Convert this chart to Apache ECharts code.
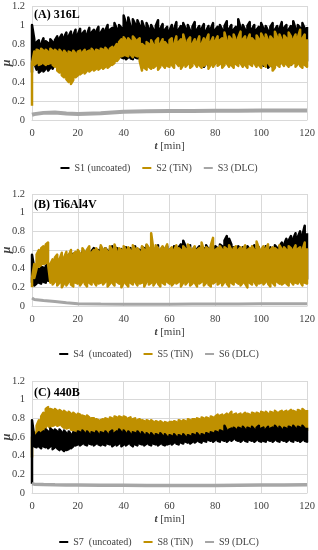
<!DOCTYPE html>
<html><head><meta charset="utf-8">
<script src="https://cdn.jsdelivr.net/npm/echarts@6/dist/echarts.min.js"></script>
<style>html,body{margin:0;padding:0;background:#fff}#c{width:318px;height:550px}</style>
</head><body><div id="c"></div>
<script>
// sample times (min) of the noisy signals: one local min/max pair per minute
const minutes = Array.from({length:121},(_,i)=>i);
// sample times of the DLC curves
const dlcTimes = [0,1,5,10,15,20,30,40,50,60,70,80,90,100,110,120];
const xTicks = [0,20,40,60,80,100,120];
const yTicks = [0,0.2,0.4,0.6,0.8,1,1.2];

// ---- (A) 316L ----
const S1_hi = [1.0,0.85,0.82,0.84,0.80,0.86,0.83,0.81,0.85,0.82,0.84,
0.88,0.86,0.9,0.87,0.92,0.88,0.93,0.89,0.95,0.9,
0.96,0.91,0.94,0.9,0.97,0.92,0.95,0.93,0.98,0.92,
0.96,0.94,1.0,0.95,0.97,1.02,0.96,1.0,0.97,1.1,
1.02,1.08,0.98,1.06,1.01,1.05,0.99,1.04,0.97,1.02,
0.96,1.0,0.95,0.99,1.05,0.96,1.01,0.95,0.98,0.94,
1.0,0.96,1.03,0.95,0.99,1.02,0.96,1.0,0.94,0.98,
1.03,0.95,0.99,0.96,1.01,0.94,0.99,0.96,1.02,0.95,
0.98,1.0,0.95,0.99,1.04,0.96,1.0,0.95,0.98,1.06,
0.97,1.0,0.95,0.99,1.03,0.96,1.0,0.95,0.98,1.02,
0.96,0.99,0.94,0.98,1.02,0.95,0.99,0.96,1.03,0.97,
1.0,0.95,0.99,1.04,0.96,1.0,0.97,1.02,0.96,0.98];
const S1_lo = [0.5,0.6,0.53,0.5,0.52,0.51,0.54,0.52,0.55,0.54,0.6,
0.7,0.72,0.7,0.71,0.7,0.72,0.7,0.71,0.72,0.7,
0.72,0.71,0.73,0.72,0.74,0.72,0.73,0.74,0.72,0.74,
0.73,0.75,0.74,0.73,0.75,0.74,0.72,0.7,0.66,0.65,
0.64,0.66,0.65,0.64,0.66,0.65,0.64,0.63,0.62,0.64,
0.62,0.63,0.61,0.63,0.62,0.6,0.63,0.62,0.61,0.62,
0.63,0.6,0.62,0.61,0.63,0.62,0.6,0.62,0.63,0.61,
0.62,0.6,0.61,0.58,0.56,0.6,0.57,0.62,0.59,0.6,
0.62,0.6,0.63,0.61,0.6,0.62,0.58,0.61,0.6,0.62,
0.6,0.62,0.59,0.61,0.6,0.62,0.6,0.58,0.61,0.6,
0.57,0.6,0.55,0.58,0.56,0.6,0.62,0.59,0.61,0.6,
0.62,0.6,0.58,0.61,0.6,0.62,0.59,0.61,0.6,0.62];
const S2_hi = [0.6,0.72,0.74,0.73,0.75,0.73,0.74,0.72,0.75,0.73,0.74,
0.72,0.74,0.71,0.73,0.7,0.72,0.71,0.73,0.7,0.72,
0.73,0.71,0.74,0.72,0.73,0.75,0.72,0.74,0.73,0.75,
0.74,0.76,0.73,0.75,0.77,0.76,0.8,0.82,0.85,0.87,
0.84,0.86,0.83,0.88,0.85,0.84,0.86,0.8,0.78,0.82,
0.8,0.84,0.79,0.83,0.86,0.8,0.85,0.82,0.79,0.84,
0.86,0.8,0.88,0.82,0.85,0.9,0.81,0.84,0.87,0.8,
0.85,0.82,0.88,0.8,0.86,0.84,0.9,0.82,0.87,0.83,
0.88,0.84,0.86,0.92,0.83,0.88,0.85,0.9,0.84,0.87,
0.93,0.85,0.88,0.84,0.9,0.86,0.83,0.89,0.85,0.91,
0.86,0.9,0.84,0.88,0.85,0.93,0.87,0.9,0.84,0.89,
0.86,0.92,0.88,0.85,0.9,0.87,0.95,0.86,0.9,0.85];
const S2_lo = [0.15,0.58,0.6,0.58,0.59,0.6,0.58,0.59,0.6,0.58,0.56,
0.52,0.5,0.47,0.45,0.43,0.4,0.38,0.42,0.45,0.47,
0.48,0.5,0.49,0.52,0.51,0.53,0.52,0.54,0.53,0.55,
0.54,0.56,0.55,0.57,0.58,0.6,0.62,0.65,0.67,0.68,
0.68,0.67,0.69,0.66,0.68,0.67,0.62,0.52,0.55,0.53,
0.56,0.54,0.55,0.57,0.53,0.56,0.58,0.55,0.57,0.56,
0.58,0.55,0.6,0.57,0.54,0.58,0.56,0.59,0.55,0.57,
0.6,0.56,0.58,0.55,0.57,0.59,0.54,0.58,0.56,0.6,
0.57,0.59,0.55,0.58,0.6,0.56,0.58,0.55,0.59,0.57,
0.6,0.56,0.58,0.55,0.59,0.57,0.6,0.56,0.58,0.55,
0.59,0.56,0.6,0.57,0.52,0.55,0.58,0.56,0.6,0.57,
0.59,0.56,0.58,0.6,0.56,0.59,0.57,0.55,0.58,0.56];
const S3 = [0.055,0.062,0.075,0.078,0.068,0.062,0.07,0.087,0.092,0.095,0.096,0.097,0.098,0.1,0.1,0.1];

// ---- (B) Ti6Al4V ----
const S4_hi = [0.55,0.4,0.38,0.4,0.42,0.41,0.43,0.45,0.44,0.46,0.48,
0.5,0.49,0.52,0.5,0.53,0.55,0.52,0.56,0.54,0.58,
0.55,0.58,0.56,0.6,0.57,0.59,0.62,0.58,0.6,0.63,
0.6,0.62,0.59,0.61,0.64,0.6,0.62,0.58,0.61,0.6,
0.63,0.6,0.62,0.59,0.64,0.61,0.6,0.63,0.62,0.65,
0.61,0.63,0.6,0.62,0.65,0.6,0.63,0.61,0.64,0.6,
0.62,0.64,0.6,0.63,0.66,0.7,0.64,0.62,0.65,0.6,
0.63,0.61,0.64,0.6,0.62,0.65,0.61,0.63,0.6,0.64,
0.62,0.66,0.64,0.7,0.75,0.72,0.66,0.63,0.61,0.64,
0.6,0.63,0.61,0.64,0.6,0.62,0.65,0.61,0.63,0.6,
0.62,0.64,0.61,0.63,0.6,0.65,0.62,0.64,0.68,0.66,
0.72,0.7,0.75,0.72,0.78,0.74,0.8,0.76,0.86,0.78];
const S4_lo = [0.25,0.22,0.24,0.25,0.24,0.26,0.25,0.27,0.28,0.3,0.3,
0.3,0.31,0.29,0.3,0.28,0.3,0.29,0.31,0.3,0.29,
0.3,0.28,0.29,0.31,0.3,0.28,0.29,0.3,0.27,0.29,
0.28,0.3,0.27,0.29,0.28,0.3,0.29,0.27,0.28,0.3,
0.29,0.28,0.3,0.27,0.29,0.28,0.3,0.29,0.27,0.28,
0.29,0.3,0.28,0.27,0.29,0.3,0.28,0.29,0.27,0.28,
0.26,0.28,0.29,0.27,0.3,0.28,0.29,0.3,0.28,0.29,
0.28,0.3,0.29,0.27,0.28,0.3,0.29,0.28,0.3,0.29,
0.28,0.27,0.29,0.26,0.28,0.3,0.29,0.28,0.27,0.29,
0.3,0.28,0.29,0.27,0.28,0.3,0.29,0.28,0.27,0.29,
0.28,0.3,0.29,0.27,0.28,0.26,0.29,0.28,0.27,0.29,
0.28,0.3,0.29,0.27,0.28,0.3,0.29,0.28,0.3,0.29];
const S5_hi = [0.3,0.45,0.55,0.6,0.62,0.64,0.66,0.68,0.45,0.5,0.52,
0.55,0.5,0.57,0.52,0.58,0.54,0.6,0.55,0.58,0.6,
0.56,0.62,0.58,0.6,0.64,0.57,0.6,0.62,0.58,0.65,
0.6,0.62,0.58,0.64,0.6,0.66,0.58,0.62,0.6,0.64,
0.6,0.63,0.59,0.65,0.61,0.62,0.58,0.64,0.6,0.66,
0.62,0.78,0.6,0.65,0.62,0.6,0.64,0.61,0.66,0.6,
0.63,0.6,0.65,0.62,0.6,0.64,0.61,0.66,0.62,0.6,
0.64,0.6,0.62,0.68,0.6,0.63,0.61,0.65,0.73,0.6,
0.62,0.64,0.6,0.63,0.61,0.65,0.6,0.62,0.64,0.6,
0.63,0.61,0.65,0.6,0.62,0.64,0.6,0.69,0.62,0.6,
0.64,0.61,0.66,0.6,0.63,0.62,0.6,0.65,0.61,0.63,
0.6,0.64,0.62,0.6,0.65,0.61,0.63,0.6,0.68,0.62];
const S5_lo = [0.2,0.3,0.4,0.42,0.44,0.45,0.46,0.45,0.25,0.23,0.26,
0.22,0.25,0.2,0.24,0.22,0.26,0.23,0.21,0.25,0.24,
0.22,0.26,0.24,0.21,0.25,0.23,0.26,0.22,0.24,0.25,
0.23,0.26,0.21,0.24,0.25,0.22,0.26,0.24,0.2,0.25,
0.24,0.21,0.25,0.23,0.26,0.22,0.24,0.25,0.21,0.26,
0.23,0.25,0.22,0.26,0.24,0.21,0.25,0.23,0.26,0.24,
0.22,0.25,0.24,0.26,0.21,0.25,0.23,0.26,0.22,0.24,
0.25,0.21,0.24,0.26,0.22,0.25,0.23,0.21,0.24,0.26,
0.23,0.25,0.22,0.26,0.24,0.21,0.25,0.23,0.26,0.24,
0.22,0.25,0.24,0.2,0.25,0.23,0.26,0.22,0.24,0.25,
0.23,0.26,0.24,0.21,0.25,0.22,0.26,0.24,0.23,0.25,
0.24,0.22,0.26,0.23,0.25,0.24,0.26,0.22,0.25,0.24];
const S6 = [0.085,0.07,0.06,0.048,0.035,0.025,0.022,0.02,0.02,0.02,0.022,0.022,0.022,0.025,0.025,0.025];

// ---- (C) 440B ----
const S7_hi = [0.78,0.6,0.62,0.65,0.64,0.66,0.68,0.66,0.69,0.67,0.68,
0.66,0.68,0.65,0.67,0.64,0.66,0.63,0.65,0.64,0.66,
0.65,0.67,0.64,0.66,0.63,0.65,0.64,0.66,0.63,0.65,
0.64,0.66,0.63,0.65,0.67,0.64,0.66,0.68,0.65,0.67,
0.64,0.66,0.63,0.65,0.64,0.66,0.63,0.65,0.62,0.64,
0.62,0.64,0.61,0.63,0.62,0.64,0.61,0.63,0.6,0.62,
0.61,0.63,0.6,0.62,0.61,0.63,0.6,0.62,0.61,0.63,
0.62,0.64,0.61,0.63,0.62,0.64,0.63,0.65,0.64,0.66,
0.65,0.67,0.66,0.72,0.67,0.68,0.69,0.7,0.68,0.7,
0.69,0.71,0.68,0.7,0.69,0.71,0.68,0.7,0.72,0.69,
0.7,0.68,0.71,0.69,0.7,0.72,0.69,0.71,0.68,0.7,
0.69,0.71,0.7,0.72,0.69,0.71,0.7,0.72,0.69,0.7];
const S7_lo = [0.1,0.5,0.49,0.5,0.48,0.5,0.49,0.48,0.5,0.47,0.49,
0.48,0.46,0.47,0.45,0.46,0.47,0.48,0.5,0.51,0.52,
0.51,0.53,0.52,0.51,0.53,0.52,0.51,0.53,0.52,0.51,
0.52,0.51,0.53,0.52,0.5,0.52,0.51,0.53,0.5,0.52,
0.51,0.53,0.52,0.5,0.52,0.51,0.53,0.52,0.51,0.53,
0.52,0.51,0.53,0.52,0.51,0.53,0.52,0.51,0.52,0.53,
0.52,0.54,0.53,0.52,0.54,0.53,0.55,0.54,0.53,0.55,
0.54,0.56,0.55,0.54,0.56,0.55,0.57,0.56,0.55,0.57,
0.56,0.55,0.57,0.56,0.55,0.57,0.56,0.58,0.57,0.56,
0.55,0.57,0.56,0.55,0.57,0.56,0.55,0.57,0.56,0.55,
0.56,0.55,0.57,0.56,0.55,0.57,0.56,0.55,0.57,0.56,
0.55,0.57,0.56,0.55,0.57,0.56,0.55,0.57,0.56,0.55];
const S8_hi = [0.6,0.65,0.72,0.78,0.82,0.86,0.9,0.92,0.9,0.89,0.9,
0.88,0.89,0.87,0.88,0.86,0.87,0.85,0.86,0.84,0.85,
0.84,0.83,0.82,0.83,0.81,0.8,0.8,0.79,0.78,0.78,
0.79,0.8,0.79,0.81,0.8,0.82,0.81,0.82,0.81,0.82,
0.81,0.8,0.81,0.79,0.8,0.78,0.79,0.78,0.77,0.78,
0.77,0.78,0.76,0.77,0.76,0.77,0.75,0.76,0.75,0.76,
0.76,0.77,0.76,0.78,0.77,0.78,0.77,0.79,0.78,0.79,
0.79,0.8,0.79,0.81,0.8,0.81,0.8,0.82,0.81,0.82,
0.84,0.83,0.84,0.83,0.85,0.84,0.87,0.84,0.85,0.84,
0.85,0.84,0.86,0.85,0.84,0.86,0.85,0.86,0.85,0.87,
0.86,0.87,0.85,0.87,0.86,0.88,0.86,0.87,0.88,0.87,
0.88,0.87,0.89,0.88,0.87,0.89,0.88,0.9,0.88,0.89];
const S8_lo = [0.38,0.55,0.6,0.62,0.65,0.67,0.7,0.72,0.7,0.72,0.73,
0.72,0.73,0.72,0.7,0.69,0.7,0.68,0.67,0.66,0.65,
0.64,0.63,0.62,0.63,0.62,0.63,0.62,0.63,0.62,0.63,
0.62,0.63,0.62,0.63,0.62,0.63,0.62,0.63,0.62,0.63,
0.62,0.63,0.62,0.61,0.62,0.61,0.62,0.61,0.6,0.61,
0.6,0.61,0.6,0.61,0.6,0.61,0.6,0.61,0.6,0.61,
0.6,0.61,0.6,0.61,0.6,0.61,0.6,0.61,0.6,0.61,
0.61,0.62,0.61,0.62,0.61,0.62,0.62,0.63,0.62,0.63,
0.64,0.65,0.64,0.65,0.65,0.66,0.66,0.67,0.66,0.67,
0.66,0.67,0.66,0.67,0.66,0.67,0.66,0.67,0.66,0.67,
0.66,0.67,0.66,0.67,0.66,0.67,0.66,0.67,0.66,0.67,
0.66,0.67,0.66,0.67,0.66,0.67,0.66,0.67,0.66,0.67];
const S9 = [0.1,0.095,0.09,0.088,0.087,0.086,0.084,0.083,0.081,0.08,0.08,0.081,0.083,0.085,0.087,0.088];

const panelTitles = ['(A) 316L','(B) Ti6Al4V','(C) 440B'];
const legendNames = [
  ['S1 (uncoated)','S2 (TiN)','S3 (DLC)'],
  ['S4  (uncoated)','S5 (TiN)','S6 (DLC)'],
  ['S7  (uncoated)','S8 (TiN)','S9 (DLC)']
];

const F = 'Liberation Serif';
const BLACK = '#000000', GOLD = '#bf9000', GRAY = '#a6a6a6';
const TXT = '#404040';

// signal drawn as a trace swinging between the local min and max of each minute
function trace(lo, hi){
  const d = [];
  for (let i = 0; i < minutes.length; i++){
    if (i % 2 === 0){ d.push([minutes[i], lo[i]], [minutes[i], hi[i]]); }
    else { d.push([minutes[i], hi[i]], [minutes[i], lo[i]]); }
  }
  return d;
}
function noisy(name, g, lo, hi, color){
  return {name, type:'line', xAxisIndex:g, yAxisIndex:g, data:trace(lo,hi), symbol:'none',
    color, lineStyle:{color, width:2.5, join:'round'}, itemStyle:{color}, silent:true, animation:false};
}
function dlc(name, g, vals, width){
  return {name, type:'line', xAxisIndex:g, yAxisIndex:g, data:dlcTimes.map((t,i)=>[t, vals[i]]),
    symbol:'none', color:GRAY, lineStyle:{color:GRAY, width}, itemStyle:{color:GRAY}, silent:true, animation:false};
}

const grids = [
  {left:32, right:11, top:6, height:114, containLabel:false, outerBoundsMode:'none'},
  {left:32, right:11, top:194, height:112, containLabel:false, outerBoundsMode:'none'},
  {left:32, right:11, top:381, height:112, containLabel:false, outerBoundsMode:'none'}
];
const legendTops = [163, 349, 537];
const titleTops = [9, 199, 387];

const chart = echarts.init(document.getElementById('c'), null, {renderer:'canvas'});
chart.setOption({
  backgroundColor:'#fff',
  animation:false,
  title: panelTitles.map((t,i)=>({text:t, left:34, top:titleTops[i], padding:0,
    textStyle:{fontFamily:F, fontSize:12, fontWeight:'bold', color:'#000'}})),
  grid: grids,
  xAxis: grids.map((_,i)=>({gridIndex:i, type:'value', min:xTicks[0], max:xTicks[xTicks.length-1], interval:xTicks[1]-xTicks[0],
    axisLine:{show:true, lineStyle:{color:'#d9d9d9'}}, axisTick:{show:false},
    splitLine:{show:true, lineStyle:{color:'#d9d9d9'}},
    axisLabel:{color:TXT, fontFamily:F, fontSize:10.5, margin:8},
    name:'{b|t} [min]', nameLocation:'middle', nameGap:21, nameMoveOverlap:false,
    nameTextStyle:{fontFamily:F, fontSize:11, color:TXT,
      rich:{b:{fontFamily:F, fontSize:11, fontStyle:'italic', fontWeight:'bold', color:TXT}}}})),
  yAxis: grids.map((_,i)=>({gridIndex:i, type:'value', min:yTicks[0], max:yTicks[yTicks.length-1], interval:0.2,
    axisLine:{show:false}, axisTick:{show:false},
    splitLine:{show:true, lineStyle:{color:'#d9d9d9'}},
    axisLabel:{color:TXT, fontFamily:F, fontSize:10.5, margin:7},
    name:'μ', nameLocation:'middle', nameGap:19, nameMoveOverlap:false,
    nameTextStyle:{fontFamily:F, fontSize:12, fontStyle:'italic', fontWeight:'bold', color:TXT}})),
  legend: legendNames.map((names,i)=>({data:names, top:legendTops[i], left:'center', padding:0,
    icon:'rect', itemWidth:9, itemHeight:2, itemGap:12, selectedMode:false,
    textStyle:{fontFamily:F, fontSize:10, color:TXT}})),
  series: [
    noisy(legendNames[0][0], 0, S1_lo, S1_hi, BLACK),
    noisy(legendNames[0][1], 0, S2_lo, S2_hi, GOLD),
    dlc(legendNames[0][2], 0, S3, 4),
    noisy(legendNames[1][0], 1, S4_lo, S4_hi, BLACK),
    noisy(legendNames[1][1], 1, S5_lo, S5_hi, GOLD),
    dlc(legendNames[1][2], 1, S6, 3),
    noisy(legendNames[2][1], 2, S8_lo, S8_hi, GOLD),
    noisy(legendNames[2][0], 2, S7_lo, S7_hi, BLACK),
    dlc(legendNames[2][2], 2, S9, 3.5)
  ]
});
</script>
</body></html>
